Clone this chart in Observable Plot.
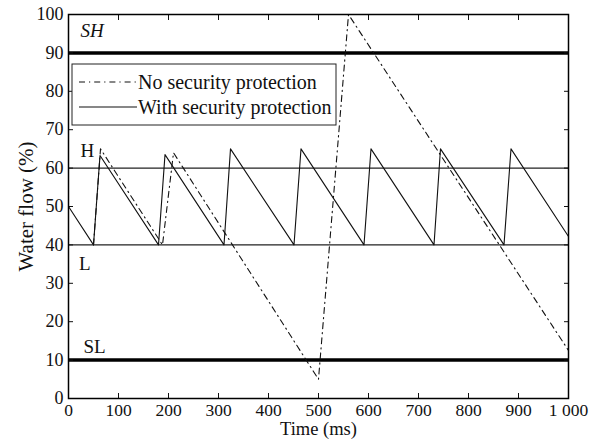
<!DOCTYPE html>
<html>
<head>
<meta charset="utf-8">
<script src="https://cdn.jsdelivr.net/npm/d3@7"></script>
<script src="https://cdn.jsdelivr.net/npm/@observablehq/plot@0.6"></script>
<style>
  html, body { margin: 0; padding: 0; background: #fff; }
  #chart svg { display: block; }
  #chart svg, #chart svg text { font-family: "Liberation Serif", "Times New Roman", serif !important; }
</style>
</head>
<body>
<div id="chart"></div>
<script>
// ---- data ----
const withProtTime  = [0, 50, 63, 180, 193, 311, 324, 451, 465, 591, 605, 731, 744, 871, 885, 1000];
const withProtFlow  = [50, 40, 63.3, 40, 63.5, 40, 65, 40, 65, 40, 65, 40, 65, 40, 65, 42.2];
const noProtTime    = [50, 64, 188, 210, 500, 560, 1000];
const noProtFlow    = [40, 65, 40, 64, 5, 100, 12.5];
const limitNames    = ["SH", "H", "L", "SL"];
const limitValues   = [90, 60, 40, 10];
const limitLabelX   = [24, 24, 21, 30];
const limitLabelY   = [95.8, 64.6, 35.1, 13.4];
const xTicks        = [0, 100, 200, 300, 400, 500, 600, 700, 800, 900, 1000];
const xTickLabels   = ["0", "100", "200", "300", "400", "500", "600", "700", "800", "900", "1 000"];
const yTicks        = [0, 10, 20, 30, 40, 50, 60, 70, 80, 90, 100];
const seriesNames   = ["No security protection", "With security protection"];

const withProt = withProtTime.map((t, i) => ({t, v: withProtFlow[i]}));
const noProt = noProtTime.map((t, i) => ({t, v: noProtFlow[i]}));
const limits = limitNames.map((n, i) => ({name: n, value: limitValues[i], lx: limitLabelX[i], ly: limitLabelY[i], thick: n.startsWith("S")}));

const FONT = "'Liberation Serif', 'Times New Roman', serif";
const DASH = "6,4,1.2,4";

const chart = Plot.plot({
  width: 592,
  height: 442,
  marginLeft: 68,
  marginRight: 24,
  marginTop: 14,
  marginBottom: 44,
  style: {fontFamily: FONT, fontSize: "18px", color: "#111", background: "#fff"},
  x: {domain: [0, 1000]},
  y: {domain: [0, 100]},
  marks: [
    Plot.ruleY(limits.filter(d => !d.thick), {y: "value", stroke: "#222", strokeWidth: 1.2}),
    Plot.ruleY(limits.filter(d => d.thick), {y: "value", stroke: "#000", strokeWidth: 3.5}),
    Plot.line(withProt, {x: "t", y: "v", stroke: "#111", strokeWidth: 1.1}),
    Plot.line(noProt, {x: "t", y: "v", stroke: "#111", strokeWidth: 1.1, strokeDasharray: DASH}),
    Plot.text(limits.filter(d => d.name === "SH"), {x: "lx", y: "ly", text: "name", textAnchor: "start",
      fontSize: 19, fontFamily: FONT, fontStyle: "italic", fill: "#111"}),
    Plot.text(limits.filter(d => d.name !== "SH"), {x: "lx", y: "ly", text: "name", textAnchor: "start",
      fontSize: 19, fontFamily: FONT, fill: "#111"}),
    Plot.axisX({ticks: xTicks, tickSize: -5, tickPadding: 10.5, tickFormat: d => xTickLabels[xTicks.indexOf(d)], label: null, fontSize: 17.5, fontFamily: FONT}),
    Plot.axisX({anchor: "top", ticks: xTicks, tickSize: -5, tickFormat: () => "", label: null}),
    Plot.axisY({ticks: yTicks, tickSize: -5, tickPadding: 10, label: null, fontSize: 18, fontFamily: FONT}),
    Plot.axisY({anchor: "right", ticks: yTicks, tickSize: -5, tickFormat: () => "", label: null}),
    Plot.frame({stroke: "#000", strokeWidth: 1.5}),
    Plot.text(["Time (ms)"], {frameAnchor: "bottom", textAnchor: "middle", dy: 36.5, fontSize: 18.5, fontFamily: FONT, fill: "#111"}),
    Plot.text(["Water flow (%)"], {frameAnchor: "left", textAnchor: "middle", rotate: -90, dx: -42, fontSize: 21, fontFamily: FONT, fill: "#111"})
  ]
});

// legend box inside the plot area
const svg = d3.select(chart);
const lg = svg.append("g").attr("font-family", FONT).attr("font-size", 20)
  .attr("fill", "#111").attr("text-anchor", "start");
lg.append("rect").attr("x", 72).attr("y", 64).attr("width", 264).attr("height", 61)
  .attr("fill", "#fff").attr("stroke", "#222").attr("stroke-width", 1);
seriesNames.forEach((name, i) => {
  const yy = 82 + i * 25;
  lg.append("line").attr("x1", 79).attr("x2", 137).attr("y1", yy).attr("y2", yy)
    .attr("stroke", "#111").attr("stroke-width", 1.1)
    .attr("stroke-dasharray", i === 0 ? DASH : null);
  lg.append("text").attr("x", 138).attr("y", yy).attr("dy", "0.35em")
    .attr("text-anchor", "start").text(name);
});

document.getElementById("chart").appendChild(chart);
</script>
</body>
</html>
